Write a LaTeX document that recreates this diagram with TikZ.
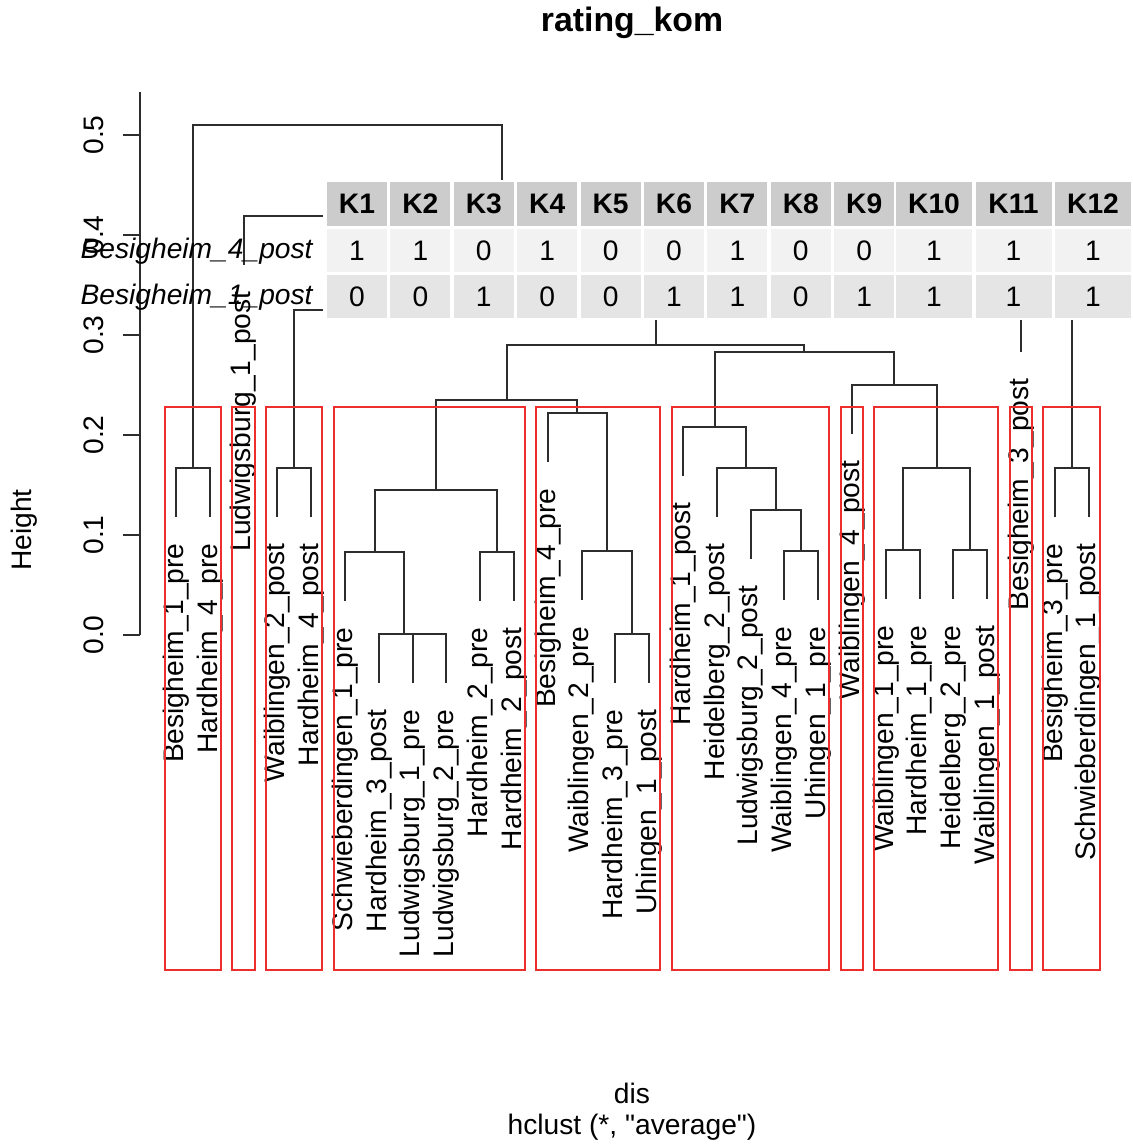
\documentclass[tikz,border=0pt]{standalone}
\usepackage{fontspec}
\setmainfont{Liberation Sans}
\newfontfamily\plainsans{Liberation Sans}
\usetikzlibrary{calc}
\definecolor{branchgray}{RGB}{45,45,45}
\definecolor{boxred}{RGB}{238,45,45}
\definecolor{headgray}{RGB}{204,204,204}
\definecolor{rowlight}{RGB}{242,242,242}
\definecolor{rowdark}{RGB}{229,229,229}
\newcommand{\plotfont}{\fontsize{14.1}{16}\selectfont}
\newcommand{\joinclusters}[4]{%
  \path ($(#2)!0.5!(#3)$) coordinate (#1-mid);
  \coordinate (#1) at (#1-mid |- 0,#4);
  \draw [branch] (#2) |- (#1) -| (#3);}

\begin{document}
\begin{tikzpicture}[x=0.5pt, y=-0.5pt,
    every node/.style={font=\plotfont},
    branch/.style={draw=branchgray, line width=1pt},
    axisline/.style={draw=branchgray, line width=1pt},
    clusterbox/.style={draw=boxred, line width=1pt},
    leaflabel/.style={rotate=90, anchor=east, inner sep=0pt},
    ticklabel/.style={rotate=90, inner sep=0pt},
    rowlabel/.style={anchor=east, inner sep=0pt, font=\plotfont\itshape},
    headcell/.style={fill=headgray, inner sep=0pt, minimum height=22pt, font=\plotfont\bfseries},
    cell/.style={inner sep=0pt, minimum height=21.5pt}]
    \useasboundingbox (0,0) rectangle (1132,1144);

    \node (title) [font=\fontsize{16.9}{20}\selectfont\bfseries] at (632,23) {rating\_kom};
    \node (ylab) [rotate=90] at (24,530) {Height};
    \node (xlab) at (632,1093) {dis};
    \node (method) [font=\plotfont\plainsans] at (632,1127) {hclust (*, "average")};

    \draw [axisline] (140,92) -- (140,635);
    \foreach \v [count=\k from 0] in {0.0,0.1,0.2,0.3,0.4,0.5} {
        \draw [axisline] (123,{635-100*\k}) -- (140,{635-100*\k});
        \node (tick\k) [ticklabel] at (94,{635-100*\k}) {\v};
    }

    \foreach \n/\lab/\i/\e in {
        b1pre/Besigheim\_1\_pre/0/517, h4pre/Hardheim\_4\_pre/1/517,
        l1post/Ludwigsburg\_1\_post/2/265, w2post/Waiblingen\_2\_post/3/517,
        h4post/Hardheim\_4\_post/4/517, s1pre/Schwieberdingen\_1\_pre/5/601,
        h3post/Hardheim\_3\_post/6/683, l1pre/Ludwigsburg\_1\_pre/7/683,
        l2pre/Ludwigsburg\_2\_pre/8/683, h2pre/Hardheim\_2\_pre/9/601,
        h2post/Hardheim\_2\_post/10/601, b4pre/Besigheim\_4\_pre/11/462,
        w2pre/Waiblingen\_2\_pre/12/600, h3pre/Hardheim\_3\_pre/13/683,
        u1post/Uhingen\_1\_post/14/683, h1post/Hardheim\_1\_post/15/476,
        he2post/Heidelberg\_2\_post/16/517, l2post/Ludwigsburg\_2\_post/17/559,
        w4pre/Waiblingen\_4\_pre/18/600, u1pre/Uhingen\_1\_pre/19/600,
        w4post/Waiblingen\_4\_post/20/434, w1pre/Waiblingen\_1\_pre/21/599,
        h1pre/Hardheim\_1\_pre/22/599, he2pre/Heidelberg\_2\_pre/23/599,
        w1post/Waiblingen\_1\_post/24/599, b3post/Besigheim\_3\_post/25/352,
        b3pre/Besigheim\_3\_pre/26/517, s1post/Schwieberdingen\_1\_post/27/517}
    {
        \coordinate (\n) at ({176+33.8*\i},\e);
        \node (\n-lab) [leaflabel] at ({176+33.8*\i},{\e+26}) {\lab};
    }

    \joinclusters{mA}{b1pre}{h4pre}{468}
    \joinclusters{mB}{w2post}{h4post}{468}
    \joinclusters{mC1}{l1pre}{l2pre}{634}
    \joinclusters{mC2}{h3post}{mC1}{634}
    \joinclusters{mD}{s1pre}{mC2}{552}
    \joinclusters{mE}{h2pre}{h2post}{552}
    \joinclusters{mF}{mD}{mE}{490}
    \joinclusters{mG1}{h3pre}{u1post}{634}
    \joinclusters{mG2}{w2pre}{mG1}{551}
    \joinclusters{mG3}{b4pre}{mG2}{413}
    \joinclusters{mH}{mF}{mG3}{400}
    \joinclusters{mI1}{w4pre}{u1pre}{551}
    \joinclusters{mI2}{l2post}{mI1}{510}
    \joinclusters{mI3}{he2post}{mI2}{468}
    \joinclusters{mI4}{h1post}{mI3}{427}
    \joinclusters{mJ1}{w1pre}{h1pre}{550}
    \joinclusters{mJ2}{he2pre}{w1post}{550}
    \joinclusters{mJ3}{mJ1}{mJ2}{468}
    \joinclusters{mJ4}{w4post}{mJ3}{385}
    \joinclusters{mK}{mI4}{mJ4}{352}
    \joinclusters{mL}{mH}{mK}{345}
    \joinclusters{mM}{b3pre}{s1post}{468}
    \joinclusters{mN}{b3post}{mM}{303}
    \joinclusters{mR}{mB}{mL}{310}
    \joinclusters{mS}{mR}{mN}{265}
    \joinclusters{mT}{l1post}{mS}{216}
    \joinclusters{root}{mA}{mT}{125}

    \foreach \a/\b in {0/1, 2/2, 3/4, 5/10, 11/14, 15/19, 20/20, 21/24, 25/25, 26/27}
        \draw [clusterbox] ({176+33.8*\a-11.5},407) rectangle ({176+33.8*\b+11.2},970);

    \fill [white] (323,180) rectangle (1132,320);
    \foreach \k/\x/\w/\p/\q in {1/357/60/1/0, 2/420.4/60/1/0, 3/483.8/60/0/1,
        4/547.2/60/1/0, 5/610.6/60/0/0, 6/674/60/0/1, 7/737.4/60/1/1,
        8/800.8/60/0/0, 9/864.2/60/0/1, 10/934/76/1/1, 11/1013.5/76/1/1,
        12/1093/76/1/1}
    {
        \node (head\k) [headcell, minimum width=\w*0.5pt] at (\x,204) {K\k};
        \node (rowA\k) [cell, fill=rowlight, minimum width=\w*0.5pt] at (\x,250.5) {\p};
        \node (rowB\k) [cell, fill=rowdark, minimum width=\w*0.5pt] at (\x,296.5) {\q};
    }
    \node (rowAlab) [rowlabel] at (313,251) {Besigheim\_4\_post};
    \node (rowBlab) [rowlabel] at (313,297) {Besigheim\_1\_post};
\end{tikzpicture}
\end{document}
